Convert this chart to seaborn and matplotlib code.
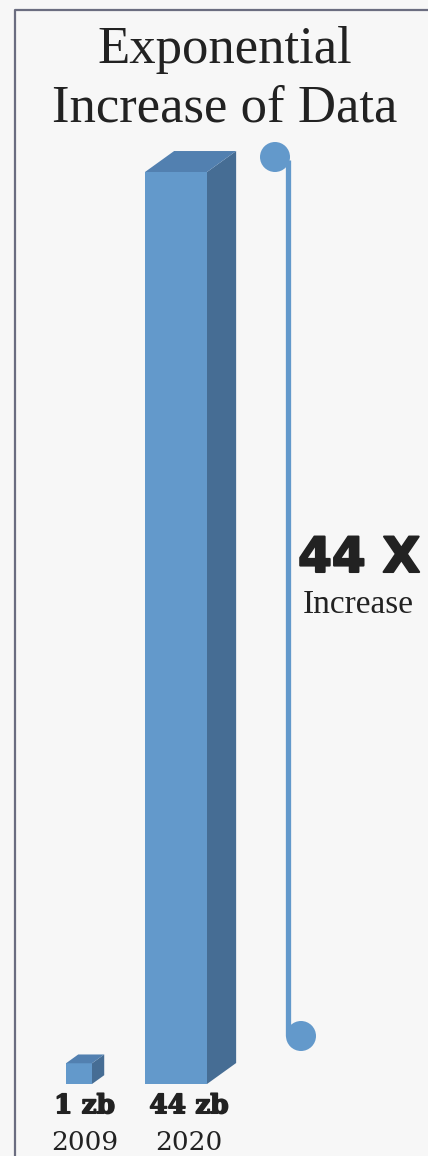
import matplotlib
matplotlib.use("Agg")
import matplotlib.pyplot as plt
import matplotlib.patches as mpatches
import matplotlib.lines as mlines
import matplotlib.patheffects as pe
from matplotlib.transforms import Affine2D
import seaborn as sns
import pandas as pd

# ---- data ----
years = ["2009", "2020"]
values = [1, 44]
value_labels = ["1 zb", "44 zb"]
title_lines = ["Exponential", "Increase of Data"]
factor_label = "44 X"
factor_sub = "Increase"

W, H = 428, 1156
BG = "#f7f7f7"
FRONT = "#6399cb"
SIDE = "#466d94"
TOP = "#5280b0"
TXT = "#222222"

sns.set_style("white")
fig = plt.figure(figsize=(W / 100, H / 100), dpi=100, facecolor=BG)

# pixel transform (origin top-left)
pix = Affine2D().scale(1, -1).translate(0, H).scale(1 / 100) + fig.dpi_scale_trans

base_px = 1084
top_px = 172
px_per_unit = (base_px - top_px) / max(values)
x_px_per_cat = 97.0
x0_px = 79.0

ax = fig.add_axes([0, (H - base_px) / H, 1, base_px / H])
ax.set_facecolor(BG)
df = pd.DataFrame({"year": years, "value": values})
sns.barplot(data=df, x="year", y="value", color=FRONT, saturation=1, ax=ax, width=0.6)
ax.set_xlim(-x0_px / x_px_per_cat, (W - x0_px) / x_px_per_cat)
ax.set_ylim(0, base_px / px_per_unit)
ax.axis("off")

heavy = [pe.withStroke(linewidth=1.1, foreground=TXT)]

widths_px = [26, 62]
for i, p in enumerate(ax.patches):
    c = p.get_x() + p.get_width() / 2
    w = widths_px[i] / x_px_per_cat
    p.set_x(c - w / 2)
    p.set_width(w)
    p.set_edgecolor("none")
    x1 = c - w / 2
    x2 = c + w / 2
    h = p.get_height()
    dx = 0.47 * widths_px[i] / x_px_per_cat
    dy = 0.72 * 0.47 * widths_px[i] / px_per_unit
    side = mpatches.Polygon([(x2, 0), (x2 + dx, dy), (x2 + dx, h + dy), (x2, h)],
                            closed=True, facecolor=SIDE, edgecolor="none")
    top = mpatches.Polygon([(x1, h), (x1 + dx, h + dy), (x2 + dx, h + dy), (x2, h)],
                           closed=True, facecolor=TOP, edgecolor="none")
    ax.add_patch(side)
    ax.add_patch(top)
    lx = c + dx * 0.45
    ax.text(lx, -1.05, value_labels[i], ha="center", va="center",
            fontsize=19, fontweight="bold", family="DejaVu Serif", color=TXT,
            path_effects=heavy)
    ax.text(lx, -(1155 - base_px) / px_per_unit, years[i], ha="center", va="bottom",
            fontsize=19, family="DejaVu Serif", color=TXT)

# ---- border ----
fig.add_artist(mlines.Line2D([15, 15, W + 5], [H + 5, 10, 10], transform=pix,
                             color="#6b6d80", lw=1.6))

# ---- bracket ----
BR = FRONT
fig.add_artist(mlines.Line2D([288, 288], [160, 1036], transform=pix,
                             color=BR, lw=3.8, solid_capstyle="butt"))
fig.add_artist(mpatches.Circle((275, 157), 15, transform=pix, facecolor=BR, edgecolor="none"))
fig.add_artist(mpatches.Circle((301, 1036), 15, transform=pix, facecolor=BR, edgecolor="none"))

# ---- texts ----
fig.text(225 / W, 1 - 50 / H, title_lines[0], ha="center", va="center",
         fontsize=38, family="Liberation Serif", color=TXT)
fig.text(225 / W, 1 - 108 / H, title_lines[1], ha="center", va="center",
         fontsize=38, family="Liberation Serif", color=TXT)
fig.text(359 / W, 1 - 558 / H, factor_label, ha="center", va="center",
         fontsize=35, fontweight="bold", family="DejaVu Sans", color=TXT,
         path_effects=[pe.withStroke(linewidth=1.5, foreground=TXT)])
fig.text(358 / W, 1 - 605 / H, factor_sub, ha="center", va="center",
         fontsize=24, family="Liberation Serif", color=TXT)

fig.savefig("out.png", dpi=100, facecolor=BG)
